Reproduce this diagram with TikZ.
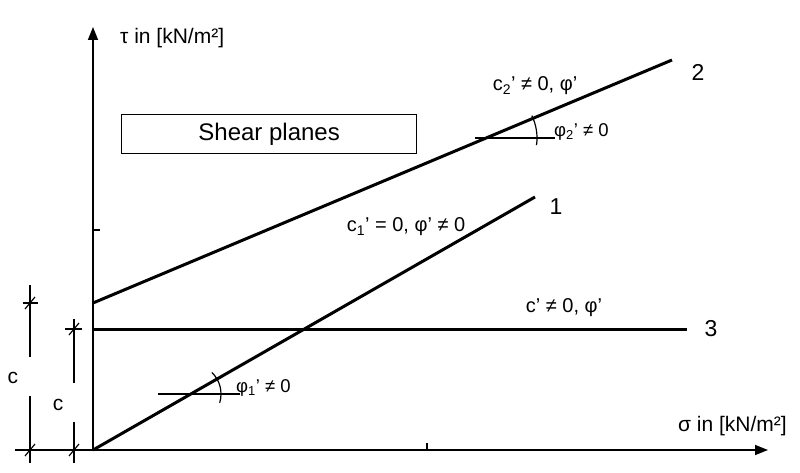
\documentclass[tikz,border=0pt]{standalone}
\usepackage{fontspec}
\setmainfont{Liberation Sans}
\usetikzlibrary{arrows.meta}
\newcommand{\fs}[1]{\fontsize{#1}{#1}\selectfont}
\begin{document}
\begin{tikzpicture}[x=1pt,y=1pt,
  axis/.style={line width=1.6pt},
  shearline/.style={line width=3pt},
  dimline/.style={line width=1.2pt},
  thin/.style={line width=1.2pt},
  lbl/.style={inner sep=0pt, font=\fs{20}},
  philbl/.style={inner sep=0pt, font=\fs{18.5}},
  numlbl/.style={inner sep=0pt, font=\fs{23}},
  axlbl/.style={inner sep=0pt, font=\fs{21}},
  arrowtip/.style={-{Triangle[length=13pt,width=10pt]}}
]
\useasboundingbox (0,0) rectangle (800,472);
% coordinates
\coordinate (O) at (93,22);
\coordinate (Ytip) at (93,445);
\coordinate (Xstart) at (15,22);
\coordinate (Xtip) at (768,22);
\coordinate (L1end) at (535,275);
\coordinate (L2start) at (93,169);
\coordinate (L2end) at (672,412);
\coordinate (L3start) at (93,143);
\coordinate (L3end) at (687,143);
% axes
\draw[axis,arrowtip] (O) -- (Ytip);
\draw[axis,arrowtip] (Xstart) -- (Xtip);
\coordinate (tx1) at (427,22); \coordinate (tx2) at (427,29);
\draw[axis] (tx1) -- (tx2);
\coordinate (ty1) at (93,242); \coordinate (ty2) at (100,242);
\draw[axis] (ty1) -- (ty2);
% axis labels
\node[axlbl,anchor=base west] (tau) at (120,428) {τ in [kN/m²]};
\node[axlbl,anchor=base west] (sig) at (678,41) {σ in [kN/m²]};
% shear lines
\draw[shearline] (O) -- (L1end);
\draw[shearline] (L2start) -- (L2end);
\draw[shearline] (L3start) -- (L3end);
\node[numlbl] (n1) at (556,265) {1};
\node[numlbl] (n2) at (698,400) {2};
\node[numlbl] (n3) at (711,143) {3};
% box
\node[draw,line width=1.3pt,minimum width=295pt,minimum height=39pt,inner sep=0pt,font=\fs{24},anchor=south west] (box) at (121,318) {Shear planes};
% line labels
\node[lbl] (c2) at (535,386) {c\textsubscript{2}' ≠ 0, φ'};
\node[lbl] (c1) at (406,245) {c\textsubscript{1}' = 0, φ' ≠ 0};
\node[lbl] (c3) at (564,164) {c' ≠ 0, φ'};
% phi2 angle
\coordinate (p2a) at (475,334); \coordinate (p2b) at (555,334);
\draw[thin] (p2a) -- (p2b);
\coordinate (p2c) at (486,334);
\draw[thin] ([shift={(-8:51)}]p2c) arc[start angle=-8,end angle=26,radius=51];
\node[philbl,anchor=west] (phi2) at (554,340) {φ\textsubscript{2}' ≠ 0};
% phi1 angle
\coordinate (p1a) at (158,78); \coordinate (p1b) at (240,78);
\draw[thin] (p1a) -- (p1b);
\coordinate (p1c) at (191,78);
\draw[thin] ([shift={(-17:30)}]p1c) arc[start angle=-17,end angle=46,radius=30];
\node[philbl,anchor=west] (phi1) at (236,84) {φ\textsubscript{1}' ≠ 0};
% left dimension (line 2)
\coordinate (d1a) at (30,187); \coordinate (d1b) at (30,115);
\coordinate (d1c) at (30,76); \coordinate (d1d) at (30,9);
\draw[dimline] (d1a) -- (d1b);
\draw[dimline] (d1c) -- (d1d);
\node[axlbl] (cl) at (13,94) {c};
\coordinate (d1h1) at (23,169); \coordinate (d1h2) at (38,169);
\draw[dimline] (d1h1) -- (d1h2);
\coordinate (d1s1) at (25,163); \coordinate (d1s2) at (35,175);
\draw[dimline] (d1s1) -- (d1s2);
\coordinate (d1t1) at (25,16); \coordinate (d1t2) at (35,28);
\draw[dimline] (d1t1) -- (d1t2);
% right dimension (line 3)
\coordinate (d2a) at (74,153); \coordinate (d2b) at (74,89);
\coordinate (d2c) at (74,50); \coordinate (d2d) at (74,9);
\draw[dimline] (d2a) -- (d2b);
\draw[dimline] (d2c) -- (d2d);
\node[axlbl] (cr) at (58,67) {c};
\coordinate (d2h1) at (65,143); \coordinate (d2h2) at (82,143);
\draw[dimline] (d2h1) -- (d2h2);
\coordinate (d2s1) at (69,137); \coordinate (d2s2) at (79,149);
\draw[dimline] (d2s1) -- (d2s2);
\coordinate (d2t1) at (69,16); \coordinate (d2t2) at (79,28);
\draw[dimline] (d2t1) -- (d2t2);
\end{tikzpicture}
\end{document}
